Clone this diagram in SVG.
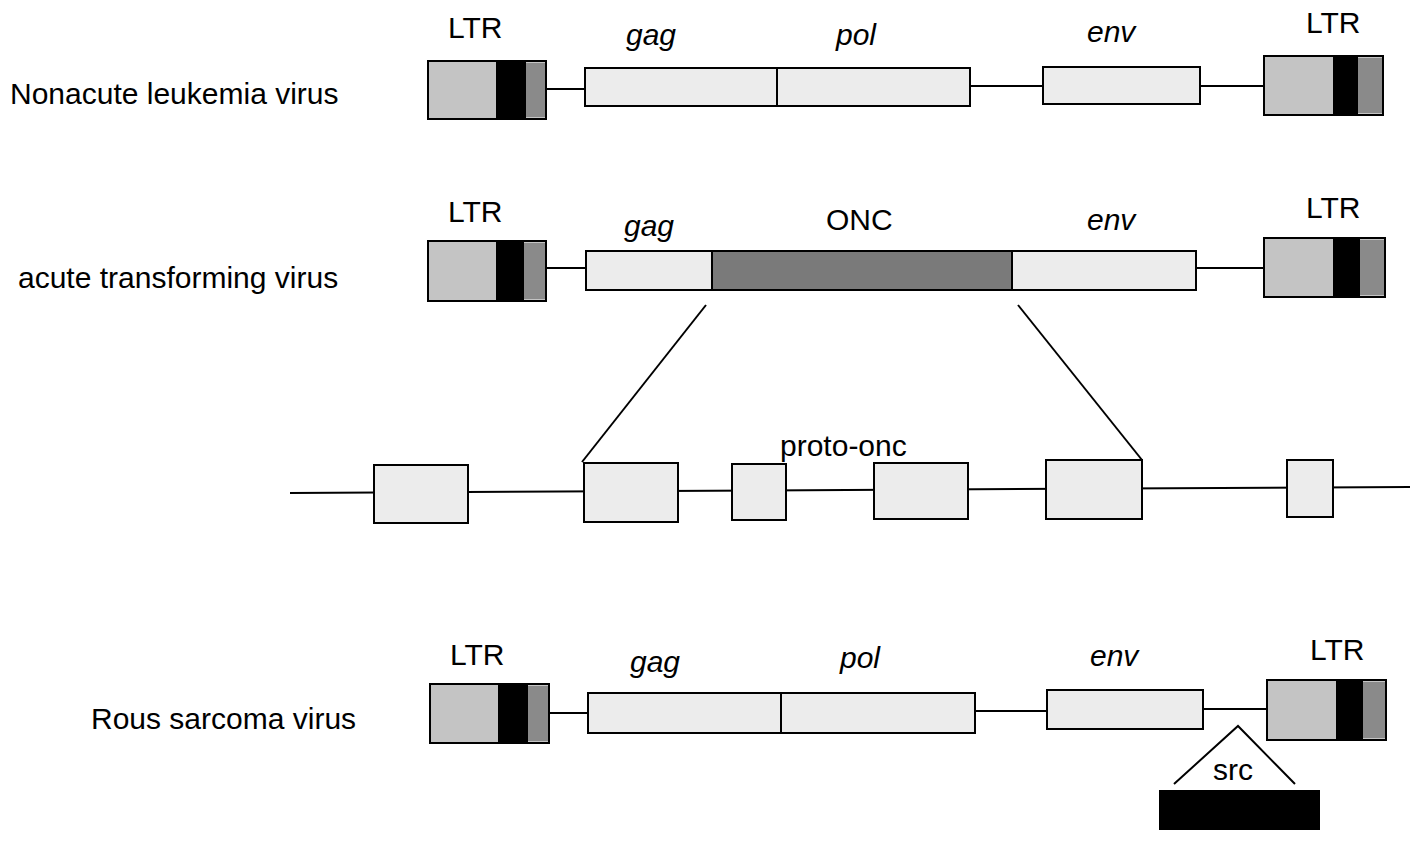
<svg xmlns="http://www.w3.org/2000/svg" width="1422" height="848" viewBox="0 0 1422 848">
<style>
text{font-family:"Liberation Sans",Arial,sans-serif;font-size:30px;fill:#000}
.i{font-style:italic}
.b{fill:#ececec;stroke:#000;stroke-width:2}
.l{fill:#c4c4c4;stroke:#000;stroke-width:2}
.k{fill:#000}
.m{fill:#8a8a8a}
.o{fill:#7a7a7a;stroke:#000;stroke-width:2}
.ln{stroke:#000;stroke-width:2;fill:none}
</style>
<rect width="1422" height="848" fill="#fff"/>
<g id="connectors">
<line class="ln" x1="546" y1="89" x2="585" y2="89"/><line class="ln" x1="970" y1="86" x2="1043" y2="86"/><line class="ln" x1="1200" y1="86" x2="1264" y2="86"/>
<line class="ln" x1="546" y1="268" x2="586" y2="268"/><line class="ln" x1="1196" y1="268" x2="1264" y2="268"/>
<line class="ln" x1="706" y1="305" x2="582" y2="462"/><line class="ln" x1="1018" y1="305" x2="1142" y2="460"/>
<line class="ln" x1="290" y1="493" x2="1410" y2="487"/>
<line class="ln" x1="549" y1="713" x2="588" y2="713"/><line class="ln" x1="975" y1="711" x2="1047" y2="711"/><line class="ln" x1="1203" y1="709" x2="1267" y2="709"/>
<polyline class="ln" points="1174,784 1238,726 1295,784"/>
</g>
<g id="row1">
<text x="10" y="104">Nonacute leukemia virus</text>
<text x="448" y="38">LTR</text><text x="1306" y="33">LTR</text>
<text class="i" x="626" y="45">gag</text><text class="i" x="836" y="45">pol</text><text class="i" x="1087" y="42">env</text>
<rect class="l" x="428" y="61" width="118" height="58"/><rect class="k" x="496" y="61" width="30" height="58"/><rect class="m" x="526" y="63" width="19" height="54"/>
<rect class="b" x="585" y="68" width="385" height="38"/><line class="ln" x1="777" y1="68" x2="777" y2="106"/>
<rect class="b" x="1043" y="67" width="157" height="37"/>
<rect class="l" x="1264" y="56" width="119" height="59"/><rect class="k" x="1333" y="56" width="25" height="59"/><rect class="m" x="1358" y="58" width="24" height="55"/>
</g>
<g id="row2">
<text x="18" y="288">acute transforming virus</text>
<text x="448" y="222">LTR</text><text x="1306" y="218">LTR</text>
<text class="i" x="624" y="236">gag</text><text x="826" y="230">ONC</text><text class="i" x="1087" y="230">env</text>
<rect class="l" x="428" y="241" width="118" height="60"/><rect class="k" x="496" y="241" width="28" height="60"/><rect class="m" x="524" y="243" width="21" height="56"/>
<rect class="b" x="586" y="251" width="610" height="39"/><rect class="o" x="712" y="251" width="300" height="39"/>
<rect class="l" x="1264" y="238" width="121" height="59"/><rect class="k" x="1333" y="238" width="27" height="59"/><rect class="m" x="1360" y="240" width="24" height="55"/>
</g>
<g id="row3">
<text x="780" y="456">proto-onc</text>
<rect class="b" x="374" y="465" width="94" height="58"/>
<rect class="b" x="584" y="463" width="94" height="59"/>
<rect class="b" x="732" y="464" width="54" height="56"/>
<rect class="b" x="874" y="463" width="94" height="56"/>
<rect class="b" x="1046" y="460" width="96" height="59"/>
<rect class="b" x="1287" y="460" width="46" height="57"/>
</g>
<g id="row4">
<text x="91" y="729">Rous sarcoma virus</text>
<text x="450" y="665">LTR</text><text x="1310" y="660">LTR</text>
<text class="i" x="630" y="672">gag</text><text class="i" x="840" y="668">pol</text><text class="i" x="1090" y="666">env</text>
<rect class="l" x="430" y="684" width="119" height="59"/><rect class="k" x="498" y="684" width="30" height="59"/><rect class="m" x="528" y="686" width="20" height="55"/>
<rect class="b" x="588" y="693" width="387" height="40"/><line class="ln" x1="781" y1="693" x2="781" y2="733"/>
<rect class="b" x="1047" y="690" width="156" height="39"/>
<rect class="l" x="1267" y="680" width="119" height="60"/><rect class="k" x="1336" y="680" width="27" height="60"/><rect class="m" x="1363" y="682" width="22" height="56"/>
<text x="1213" y="780">src</text>
<rect class="k" x="1159" y="790" width="161" height="40"/>
</g>
</svg>
